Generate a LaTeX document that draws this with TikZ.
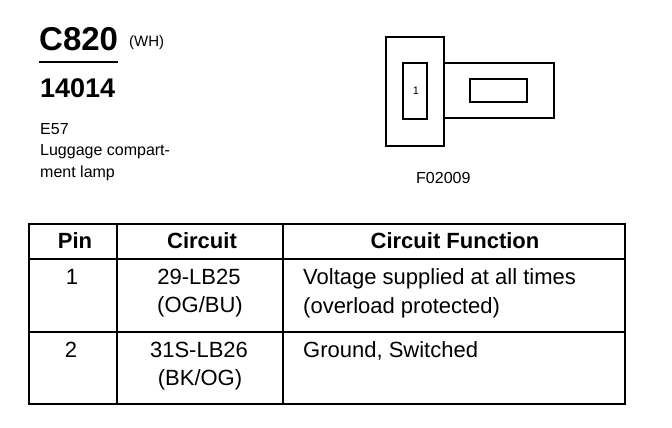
\documentclass[tikz,border=0pt]{standalone}
\usepackage{fontspec}
\setmainfont{Liberation Sans}
\tikzset{
    cell/.style={inner sep=0pt, anchor=base, font=\fontsize{22}{22}\selectfont},
    head/.style={inner sep=0pt, anchor=base, font=\fontsize{22}{22}\selectfont\bfseries},
    small/.style={inner sep=0pt, anchor=base west, font=\fontsize{16}{16}\selectfont},
    rule/.style={line width=2.8pt, line cap=rect},
    outline/.style={draw=black, line width=2.6pt, fill=white, inner sep=0pt}
}

\begin{document}
\begin{tikzpicture}[x=1pt, y=-1pt]
    \useasboundingbox (0,0) rectangle (672,428);

    \node[inner sep=0pt, anchor=base west, font=\fontsize{33}{33}\selectfont\bfseries] (C820) at (39,51) {C820};
    \node[small, font=\fontsize{15}{15}\selectfont] (WH) at (129,47) {(WH)};
    \draw[line width=1.5pt] (39,62) -- (118,62);
    \node[inner sep=0pt, anchor=base west, font=\fontsize{27}{27}\selectfont\bfseries] (P14014) at (40,97) {14014};
    \node[small] (E57) at (40,134) {E57};
    \node[small] (Lamp1) at (40,155) {Luggage compart-};
    \node[small] (Lamp2) at (40,177) {ment lamp};

    \draw[outline] (444,63) rectangle (554,118);
    \draw[outline] (386,37) rectangle (444,146);
    \draw[outline] (403,63) rectangle (427,119);
    \draw[outline] (470,79) rectangle (527,102);
    \node[inner sep=0pt, font=\fontsize{11}{11}\selectfont] (Pin1) at (416,91) {1};
    \node[small] (Fig) at (416,183) {F02009};

    \draw[rule] (29,224) rectangle (625,404);
    \draw[rule] (29,259) -- (625,259);
    \draw[rule] (29,332) -- (625,332);
    \draw[rule] (117,224) -- (117,404);
    \draw[rule] (283,224) -- (283,404);

    \node[head] (HPin) at (75,248) {Pin};
    \node[head] (HCircuit) at (202,248) {Circuit};
    \node[head] (HFunction) at (455,248) {Circuit Function};

    \node[cell] (Pin1a) at (72,284) {1};
    \node[cell] (C1a) at (199,284) {29-LB25};
    \node[cell] (C1b) at (200,312) {(OG/BU)};
    \node[cell, anchor=base west] (F1a) at (303,284) {Voltage supplied at all times};
    \node[cell, anchor=base west] (F1b) at (303,313) {(overload protected)};

    \node[cell] (Pin2a) at (71,357) {2};
    \node[cell] (C2a) at (199,357) {31S-LB26};
    \node[cell] (C2b) at (200,385) {(BK/OG)};
    \node[cell, anchor=base west] (F2a) at (303,357) {Ground, Switched};
\end{tikzpicture}
\end{document}
